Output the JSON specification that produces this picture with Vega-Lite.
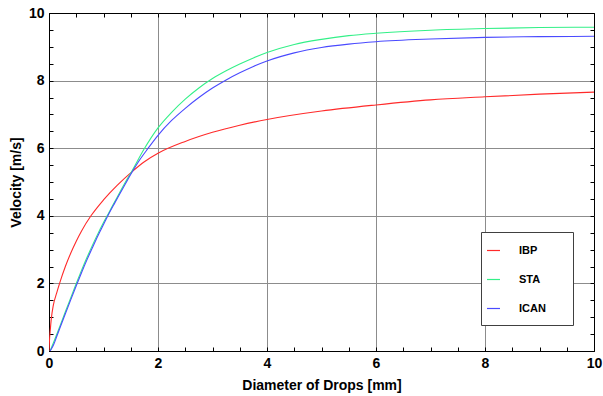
{
  "$schema": "https://vega.github.io/schema/vega-lite/v6.json",
  "width": 545,
  "height": 338,
  "autosize": {"type": "none"},
  "padding": {"left": 49, "top": 13, "right": 9, "bottom": 45},
  "background": "white",
  "config": {
    "view": {"stroke": "#000000", "strokeWidth": 1},
    "font": "Liberation Sans"
  },
  "data": {"values": [
    {"d": 0, "v": 0, "model": "IBP"},
    {"d": 0.01, "v": 0.35, "model": "IBP"},
    {"d": 0.02, "v": 0.55, "model": "IBP"},
    {"d": 0.04, "v": 0.92, "model": "IBP"},
    {"d": 0.08, "v": 1.36, "model": "IBP"},
    {"d": 0.14, "v": 1.71, "model": "IBP"},
    {"d": 0.2, "v": 2.03, "model": "IBP"},
    {"d": 0.3, "v": 2.5, "model": "IBP"},
    {"d": 0.4, "v": 2.9, "model": "IBP"},
    {"d": 0.5, "v": 3.25, "model": "IBP"},
    {"d": 0.6, "v": 3.56, "model": "IBP"},
    {"d": 0.77, "v": 4.0, "model": "IBP"},
    {"d": 1.0, "v": 4.47, "model": "IBP"},
    {"d": 1.25, "v": 4.9, "model": "IBP"},
    {"d": 1.52, "v": 5.3, "model": "IBP"},
    {"d": 1.75, "v": 5.6, "model": "IBP"},
    {"d": 2.0, "v": 5.85, "model": "IBP"},
    {"d": 2.5, "v": 6.2, "model": "IBP"},
    {"d": 3.0, "v": 6.47, "model": "IBP"},
    {"d": 3.5, "v": 6.68, "model": "IBP"},
    {"d": 4.0, "v": 6.85, "model": "IBP"},
    {"d": 5.0, "v": 7.1, "model": "IBP"},
    {"d": 6.0, "v": 7.28, "model": "IBP"},
    {"d": 7.0, "v": 7.43, "model": "IBP"},
    {"d": 8.0, "v": 7.52, "model": "IBP"},
    {"d": 9.0, "v": 7.6, "model": "IBP"},
    {"d": 10.0, "v": 7.66, "model": "IBP"},
    {"d": 0.02, "v": 0, "model": "STA"},
    {"d": 0.1, "v": 0.32, "model": "STA"},
    {"d": 0.2, "v": 0.73, "model": "STA"},
    {"d": 0.3, "v": 1.16, "model": "STA"},
    {"d": 0.4, "v": 1.58, "model": "STA"},
    {"d": 0.5, "v": 2.0, "model": "STA"},
    {"d": 0.6, "v": 2.4, "model": "STA"},
    {"d": 0.7, "v": 2.78, "model": "STA"},
    {"d": 0.8, "v": 3.14, "model": "STA"},
    {"d": 0.9, "v": 3.48, "model": "STA"},
    {"d": 1.0, "v": 3.8, "model": "STA"},
    {"d": 1.1, "v": 4.1, "model": "STA"},
    {"d": 1.2, "v": 4.4, "model": "STA"},
    {"d": 1.3, "v": 4.7, "model": "STA"},
    {"d": 1.4, "v": 4.99, "model": "STA"},
    {"d": 1.52, "v": 5.32, "model": "STA"},
    {"d": 1.74, "v": 5.96, "model": "STA"},
    {"d": 2.0, "v": 6.6, "model": "STA"},
    {"d": 2.25, "v": 7.06, "model": "STA"},
    {"d": 2.5, "v": 7.45, "model": "STA"},
    {"d": 2.75, "v": 7.78, "model": "STA"},
    {"d": 3.0, "v": 8.06, "model": "STA"},
    {"d": 3.25, "v": 8.29, "model": "STA"},
    {"d": 3.5, "v": 8.49, "model": "STA"},
    {"d": 3.75, "v": 8.67, "model": "STA"},
    {"d": 4.0, "v": 8.83, "model": "STA"},
    {"d": 4.5, "v": 9.07, "model": "STA"},
    {"d": 5.0, "v": 9.22, "model": "STA"},
    {"d": 5.5, "v": 9.33, "model": "STA"},
    {"d": 6.0, "v": 9.4, "model": "STA"},
    {"d": 7.0, "v": 9.49, "model": "STA"},
    {"d": 8.0, "v": 9.54, "model": "STA"},
    {"d": 9.0, "v": 9.57, "model": "STA"},
    {"d": 10.0, "v": 9.58, "model": "STA"},
    {"d": 0.02, "v": 0, "model": "ICAN"},
    {"d": 0.08, "v": 0.17, "model": "ICAN"},
    {"d": 0.14, "v": 0.42, "model": "ICAN"},
    {"d": 0.2, "v": 0.68, "model": "ICAN"},
    {"d": 0.3, "v": 1.1, "model": "ICAN"},
    {"d": 0.4, "v": 1.52, "model": "ICAN"},
    {"d": 0.5, "v": 1.93, "model": "ICAN"},
    {"d": 0.6, "v": 2.33, "model": "ICAN"},
    {"d": 0.7, "v": 2.71, "model": "ICAN"},
    {"d": 0.8, "v": 3.07, "model": "ICAN"},
    {"d": 0.9, "v": 3.42, "model": "ICAN"},
    {"d": 1.0, "v": 3.74, "model": "ICAN"},
    {"d": 1.08, "v": 4.0, "model": "ICAN"},
    {"d": 1.2, "v": 4.36, "model": "ICAN"},
    {"d": 1.3, "v": 4.65, "model": "ICAN"},
    {"d": 1.4, "v": 4.94, "model": "ICAN"},
    {"d": 1.52, "v": 5.28, "model": "ICAN"},
    {"d": 1.65, "v": 5.62, "model": "ICAN"},
    {"d": 1.82, "v": 6.0, "model": "ICAN"},
    {"d": 2.0, "v": 6.38, "model": "ICAN"},
    {"d": 2.25, "v": 6.82, "model": "ICAN"},
    {"d": 2.5, "v": 7.18, "model": "ICAN"},
    {"d": 2.75, "v": 7.5, "model": "ICAN"},
    {"d": 3.0, "v": 7.78, "model": "ICAN"},
    {"d": 3.25, "v": 8.02, "model": "ICAN"},
    {"d": 3.5, "v": 8.23, "model": "ICAN"},
    {"d": 3.75, "v": 8.42, "model": "ICAN"},
    {"d": 4.0, "v": 8.58, "model": "ICAN"},
    {"d": 4.5, "v": 8.82, "model": "ICAN"},
    {"d": 5.0, "v": 8.98, "model": "ICAN"},
    {"d": 5.5, "v": 9.08, "model": "ICAN"},
    {"d": 6.0, "v": 9.15, "model": "ICAN"},
    {"d": 7.0, "v": 9.23, "model": "ICAN"},
    {"d": 8.0, "v": 9.28, "model": "ICAN"},
    {"d": 9.0, "v": 9.3, "model": "ICAN"},
    {"d": 10.0, "v": 9.31, "model": "ICAN"}
  ]},
  "resolve": {"axis": {"x": "independent", "y": "independent"}},
  "layer": [
    {
      "mark": {"type": "line", "interpolate": "monotone", "strokeWidth": 1.1, "clip": true},
      "encoding": {
        "x": {
          "field": "d", "type": "quantitative",
          "scale": {"domain": [0, 10], "nice": false},
          "axis": {
            "orient": "bottom",
            "title": "Diameter of Drops [mm]",
            "titleFont": "Liberation Sans", "titleFontSize": 14, "titleFontWeight": "bold", "titleColor": "#000000",
            "titleBaseline": "alphabetic", "titleY": 38,
            "values": [0,0.5,1,1.5,2,2.5,3,3.5,4,4.5,5,5.5,6,6.5,7,7.5,8,8.5,9,9.5,10],
            "labelExpr": "datum.value % 2 == 0 ? format(datum.value, 'd') : ''",
            "labelFont": "Liberation Sans", "labelFontSize": 14, "labelFontWeight": "bold", "labelColor": "#000000",
            "labelFlush": false, "labelOverlap": false, "labelBound": false,
            "labelPadding": 9,
            "tickSize": -4, "tickColor": "#000000", "tickWidth": 1,
            "domainColor": "#000000", "domainWidth": 1,
            "grid": true, "gridColor": "#8c8c8c", "gridWidth": 1,
            "gridOpacity": {"condition": {"test": "datum.value % 2 == 0 && datum.value > 0 && datum.value < 10", "value": 1}, "value": 0}
          }
        },
        "y": {
          "field": "v", "type": "quantitative",
          "scale": {"domain": [0, 10], "nice": false},
          "axis": {
            "orient": "left",
            "title": "Velocity [m/s]",
            "titleFont": "Liberation Sans", "titleFontSize": 14, "titleFontWeight": "bold", "titleColor": "#000000",
            "titleX": -33, "titleBaseline": "middle",
            "values": [0,0.5,1,1.5,2,2.5,3,3.5,4,4.5,5,5.5,6,6.5,7,7.5,8,8.5,9,9.5,10],
            "labelExpr": "datum.value % 2 == 0 ? format(datum.value, 'd') : ''",
            "labelFont": "Liberation Sans", "labelFontSize": 14, "labelFontWeight": "bold", "labelColor": "#000000",
            "labelFlush": false, "labelOverlap": false, "labelBound": false,
            "labelPadding": 9,
            "tickSize": -4, "tickColor": "#000000", "tickWidth": 1,
            "domainColor": "#000000", "domainWidth": 1,
            "grid": true, "gridColor": "#8c8c8c", "gridWidth": 1,
            "gridOpacity": {"condition": {"test": "datum.value % 2 == 0 && datum.value > 0 && datum.value < 10", "value": 1}, "value": 0}
          }
        },
        "color": {
          "field": "model", "type": "nominal",
          "scale": {"domain": ["IBP", "STA", "ICAN"], "range": ["#ff2a2a", "#33f088", "#4a4aff"]},
          "legend": {
            "orient": "none", "legendX": 432, "legendY": 219,
            "title": null,
            "padding": 11,
            "fillColor": "#ffffff", "strokeColor": "#404040",
            "symbolType": "stroke", "symbolSize": 169, "symbolStrokeWidth": 1.2,
            "symbolOffset": -6,
            "labelFont": "Liberation Sans", "labelFontSize": 11, "labelFontWeight": "bold", "labelColor": "#000000",
            "labelOffset": 18, "rowPadding": 16,
            "labelExpr": "datum.label + '\u2800\u2800'"
          }
        }
      }
    },
    {
      "mark": {"type": "point", "opacity": 0},
      "encoding": {
        "x": {
          "field": "d", "type": "quantitative",
          "axis": {
            "orient": "top", "title": null, "labels": false, "grid": false, "domain": false,
            "values": [0,0.5,1,1.5,2,2.5,3,3.5,4,4.5,5,5.5,6,6.5,7,7.5,8,8.5,9,9.5,10],
            "tickSize": -4, "tickColor": "#000000", "tickWidth": 1
          }
        },
        "y": {
          "field": "v", "type": "quantitative",
          "axis": {
            "orient": "right", "title": null, "labels": false, "grid": false, "domain": false,
            "values": [0,0.5,1,1.5,2,2.5,3,3.5,4,4.5,5,5.5,6,6.5,7,7.5,8,8.5,9,9.5,10],
            "tickSize": -4, "tickColor": "#000000", "tickWidth": 1
          }
        }
      }
    }
  ]
}
